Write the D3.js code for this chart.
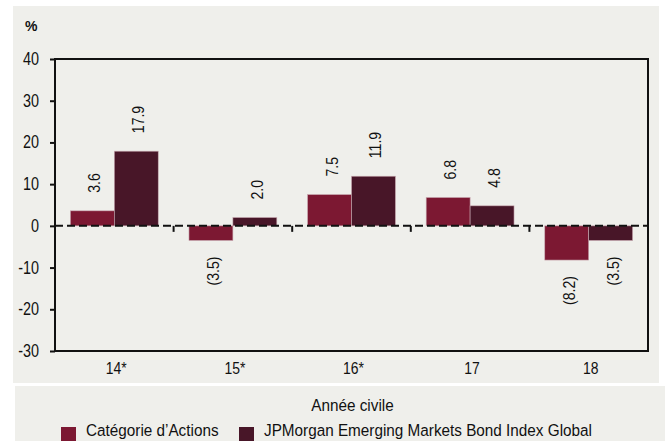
<!DOCTYPE html>
<html>
<head>
<meta charset="utf-8">
<script src="https://cdn.jsdelivr.net/npm/d3@7"></script>
<style>
  html, body { margin: 0; padding: 0; background: #fff; }
  svg { display: block; font-family: 'Liberation Sans', Arial, sans-serif; }
</style>
</head>
<body>
<div id="chart"></div>
<script>
const years = ['14*', '15*', '16*', '17', '18'];
const seriesNames = ['Catégorie d\u2019Actions', 'JPMorgan Emerging Markets Bond Index Global'];
const actions = [3.6, -3.5, 7.5, 6.8, -8.2];
const jpm = [17.9, 2.0, 11.9, 4.8, -3.5];
const yTicks = [40, 30, 20, 10, 0, -10, -20, -30];
const colors = ['#7c1832', '#481628'];

const width = 665, height = 441;
const margin = { top: 59, right: 17, bottom: 90, left: 55 };

const svg = d3.select('#chart').append('svg')
  .attr('width', width).attr('height', height)
  .attr('viewBox', [0, 0, width, height]);

// narrow-looking text: squeeze along the writing direction
function label(parent, x, y, str, { size = 17, sx = 0.85, anchor = 'start', rot = 0 } = {}) {
  return parent.append('text')
    .attr('transform', `translate(${x},${y}) rotate(${rot}) scale(${sx},1)`)
    .attr('text-anchor', anchor)
    .attr('font-size', size)
    .attr('fill', '#111')
    .text(str);
}

// background panels
svg.append('rect').attr('x', 13).attr('y', 6).attr('width', 646).attr('height', 377)
  .attr('fill', '#efefeb');
svg.append('rect').attr('x', 15).attr('y', 386).attr('width', 650).attr('height', 55)
  .attr('fill', '#efefeb');

const x0 = d3.scaleBand().domain(years)
  .range([margin.left, width - margin.right]);
const x1 = d3.scaleBand().domain([0, 1])
  .range([0, x0.bandwidth()]).paddingOuter(0.35);
const y = d3.scaleLinear().domain([-30, 40])
  .range([height - margin.bottom, margin.top]);

const rows = years.map((k, i) => ({ key: k, vals: [actions[i], jpm[i]] }));

// bars
const g = svg.append('g');
rows.forEach(r => {
  r.vals.forEach((v, s) => {
    g.append('rect')
      .attr('x', x0(r.key) + x1(s))
      .attr('width', x1.bandwidth())
      .attr('y', y(Math.max(0, v)))
      .attr('height', Math.abs(y(v) - y(0)))
      .attr('fill', colors[s])
      .attr('stroke', '#c9a9b1')
      .attr('stroke-width', 0.6);
  });
});

// value labels
const fmt = v => v < 0 ? '(' + d3.format('.1f')(-v) + ')' : d3.format('.1f')(v);
rows.forEach(r => {
  r.vals.forEach((v, s) => {
    const cx = x0(r.key) + x1(s) + x1.bandwidth() / 2;
    const yy = v >= 0 ? y(v) - 18 : y(v) + 16;
    label(g, cx + 8, yy, fmt(v), { size: 16, sx: 0.88, rot: -90, anchor: v >= 0 ? 'start' : 'end' });
  });
});

// zero dashed line
svg.append('line')
  .attr('x1', margin.left).attr('x2', width - margin.right)
  .attr('y1', y(0)).attr('y2', y(0))
  .attr('stroke', '#111').attr('stroke-width', 2)
  .attr('stroke-dasharray', '8,4');

// boundary ticks on zero line
years.slice(1).forEach(k => {
  svg.append('line')
    .attr('x1', x0(k)).attr('x2', x0(k))
    .attr('y1', y(0)).attr('y2', y(0) + 6)
    .attr('stroke', '#111').attr('stroke-width', 2);
});

// y axis
const ay = d3.axisLeft(y).tickValues(yTicks).tickSize(5).tickFormat('');
svg.append('g')
  .attr('transform', `translate(${margin.left},0)`)
  .call(ay)
  .call(s => s.selectAll('line').attr('stroke', '#111').attr('stroke-width', 2))
  .call(s => s.select('.domain').remove());
yTicks.forEach(t => label(svg, 39, y(t) + 6, String(t), { size: 18, sx: 0.8, anchor: 'end' }));

// plot frame
svg.append('rect')
  .attr('x', margin.left).attr('y', margin.top)
  .attr('width', width - margin.right - margin.left)
  .attr('height', height - margin.bottom - margin.top)
  .attr('fill', 'none').attr('stroke', '#111').attr('stroke-width', 2);

// x axis labels
years.forEach(k => label(svg, x0(k) + x0.bandwidth() / 2 + 2, 374, k, { size: 17, sx: 0.82, anchor: 'middle' }));

// titles
svg.append('text').attr('x', 25).attr('y', 31)
  .attr('font-size', 14).attr('font-weight', 'bold')
  .attr('fill', '#111').text('%');
label(svg, (margin.left + width - margin.right) / 2 + 1, 411, 'Année civile', { size: 17, sx: 0.9, anchor: 'middle' });

// legend
const legX = [61, 239];
seriesNames.forEach((n, i) => {
  svg.append('rect').attr('x', legX[i]).attr('y', 427)
    .attr('width', 15).attr('height', 14).attr('fill', colors[i]);
  label(svg, legX[i] + 25, 436, n, { size: 17, sx: 0.9 });
});
</script>
</body>
</html>
